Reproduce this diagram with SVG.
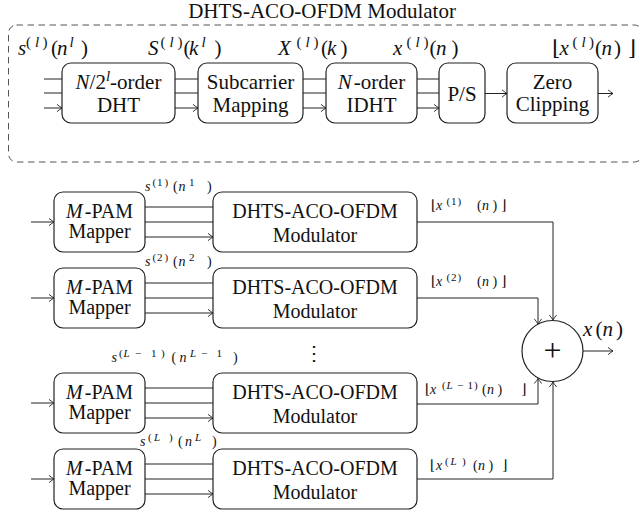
<svg xmlns="http://www.w3.org/2000/svg" width="640" height="512" viewBox="0 0 640 512">
<defs>
<marker id="arr" viewBox="-6 -5 7 10" refX="0" refY="0" markerWidth="7" markerHeight="10" markerUnits="userSpaceOnUse" orient="auto">
<path d="M-5,-3.6 Q-1.6,-0.9 0,0 Q-1.6,0.9 -5,3.6" fill="none" stroke="#222" stroke-width="0.9"/>
</marker>
<style>
.t{font-family:"Liberation Serif","DejaVu Serif",serif;fill:#111}
.b{font-size:21px}
.c{font-size:20px}
.i{font-style:italic}
.sup{font-size:15px}
.sm{font-size:14px}
.ss{font-size:11px}
.box{fill:#fff;stroke:#222;stroke-width:1.2}
.ln{fill:none;stroke:#222;stroke-width:1}
.a{marker-end:url(#arr)}
.dash{fill:none;stroke:#555;stroke-width:1;stroke-dasharray:6.5 4.5}
</style>
</defs>
<rect width="640" height="512" fill="#fff"/>

<text class="t b" x="322" y="18" text-anchor="middle">DHTS-ACO-OFDM Modulator</text>
<rect class="dash" x="8.5" y="25" width="634" height="137" rx="8"/>

<g id="connectors">
<path class="ln a" d="M44,79H62M44,93H62M44,108H62"/>
<path class="ln a" d="M175,79H198M175,93H198M175,108H198"/>
<path class="ln a" d="M303,79H326M303,93H326M303,108H326"/>
<path class="ln a" d="M417,79H439M417,93H439M417,108H439"/>
<path class="ln a" d="M485,93.5H507"/>
<path class="ln a" d="M598,93.5H613"/>

<path class="ln a" d="M31,222H54"/>
<path class="ln a" d="M145,207H213M145,222H213M145,237H213"/>
<path class="ln a" d="M31,298H54"/>
<path class="ln a" d="M145,283H213M145,298H213M145,313H213"/>
<path class="ln a" d="M31,403H54"/>
<path class="ln a" d="M145,388H213M145,403H213M145,418H213"/>
<path class="ln a" d="M31,479H54"/>
<path class="ln a" d="M145,464H213M145,479H213M145,494H213"/>

<path class="ln a" d="M417,222H553V320"/>
<path class="ln a" d="M417,298H538V324"/>
<path class="ln a" d="M417,404H538V378.5"/>
<path class="ln a" d="M417,479H553V382"/>
<path class="ln a" d="M583,351H613"/>
</g>

<g id="dht">
<rect class="box" x="62" y="63" width="113" height="60" rx="9"/>
<text class="t b" x="118.5" y="89" text-anchor="middle"><tspan class="i">N</tspan>/2<tspan class="i sup" dy="-8">l</tspan><tspan dy="8">-order</tspan></text>
<text class="t b" x="118.5" y="112" text-anchor="middle">DHT</text>
</g>
<g id="submap">
<rect class="box" x="198" y="63" width="105" height="60" rx="9"/>
<text class="t b" x="250.5" y="89" text-anchor="middle">Subcarrier</text>
<text class="t b" x="250.5" y="112" text-anchor="middle">Mapping</text>
</g>
<g id="idht">
<rect class="box" x="326" y="63" width="91" height="60" rx="9"/>
<text class="t b" x="371.5" y="89" text-anchor="middle"><tspan class="i">N</tspan><tspan dx="2">-order</tspan></text>
<text class="t b" x="371.5" y="112" text-anchor="middle">IDHT</text>
</g>
<g id="ps">
<rect class="box" x="439" y="63" width="46" height="60" rx="9"/>
<text class="t b" x="462" y="101" text-anchor="middle">P/S</text>
</g>
<g id="zc">
<rect class="box" x="507" y="63" width="91" height="60" rx="9"/>
<text class="t b" x="552.5" y="89" text-anchor="middle">Zero</text>
<text class="t b" x="552.5" y="111" text-anchor="middle">Clipping</text>
</g>

<g id="toplabels" class="t b">
<text y="55"><tspan class="i" x="18">s</tspan><tspan class="sup" x="26" y="47">(</tspan><tspan class="sup i" x="35">l</tspan><tspan class="sup" x="42.5">)</tspan><tspan x="51" y="55">(</tspan><tspan class="i" x="57">n</tspan><tspan class="sup i" x="69.5" y="47">l</tspan><tspan x="81" y="55">)</tspan></text>
<text y="55"><tspan class="i" x="148">S</tspan><tspan class="sup" x="160.5" y="47">(</tspan><tspan class="sup i" x="169.5">l</tspan><tspan class="sup" x="177.5">)</tspan><tspan x="183.5" y="55">(</tspan><tspan class="i" x="189">k</tspan><tspan class="sup i" x="201.5" y="47">l</tspan><tspan x="214.5" y="55">)</tspan></text>
<text y="55"><tspan class="i" x="278">X</tspan><tspan class="sup" x="296.5" y="47">(</tspan><tspan class="sup i" x="305.5">l</tspan><tspan class="sup" x="313.5">)</tspan><tspan x="321" y="55">(</tspan><tspan class="i" x="327">k</tspan><tspan x="340.5">)</tspan></text>
<text y="55"><tspan class="i" x="393">x</tspan><tspan class="sup" x="406.5" y="47">(</tspan><tspan class="sup i" x="415.5">l</tspan><tspan class="sup" x="423.5">)</tspan><tspan x="429.5" y="55">(</tspan><tspan class="i" x="436">n</tspan><tspan x="451.5">)</tspan></text>
<text y="55"><tspan x="552">⌊</tspan><tspan class="i" x="559.5">x</tspan><tspan class="sup" x="572.5" y="47">(</tspan><tspan class="sup i" x="581.5">l</tspan><tspan class="sup" x="589">)</tspan><tspan x="595" y="55">(</tspan><tspan class="i" x="601.5">n</tspan><tspan x="614">)</tspan><tspan x="628">⌋</tspan></text>
</g>

<g id="mapper1"><rect class="box" x="54" y="192" width="91" height="60" rx="9"/>
<text class="t c" x="99.5" y="218" text-anchor="middle"><tspan class="i">M</tspan><tspan dx="2">-PAM</tspan></text>
<text class="t c" x="99.5" y="238" text-anchor="middle">Mapper</text></g>
<g id="mod1"><rect class="box" x="213" y="192" width="204" height="60" rx="9"/>
<text class="t c" x="315" y="218" text-anchor="middle">DHTS-ACO-OFDM</text>
<text class="t c" x="315" y="242" text-anchor="middle">Modulator</text></g>

<g id="mapper2"><rect class="box" x="54" y="268" width="91" height="60" rx="9"/>
<text class="t c" x="99.5" y="294" text-anchor="middle"><tspan class="i">M</tspan><tspan dx="2">-PAM</tspan></text>
<text class="t c" x="99.5" y="314" text-anchor="middle">Mapper</text></g>
<g id="mod2"><rect class="box" x="213" y="268" width="204" height="60" rx="9"/>
<text class="t c" x="315" y="294" text-anchor="middle">DHTS-ACO-OFDM</text>
<text class="t c" x="315" y="318" text-anchor="middle">Modulator</text></g>

<g id="mapper3"><rect class="box" x="54" y="373" width="91" height="60" rx="9"/>
<text class="t c" x="99.5" y="399" text-anchor="middle"><tspan class="i">M</tspan><tspan dx="2">-PAM</tspan></text>
<text class="t c" x="99.5" y="419" text-anchor="middle">Mapper</text></g>
<g id="mod3"><rect class="box" x="213" y="373" width="204" height="60" rx="9"/>
<text class="t c" x="315" y="399" text-anchor="middle">DHTS-ACO-OFDM</text>
<text class="t c" x="315" y="423" text-anchor="middle">Modulator</text></g>

<g id="mapper4"><rect class="box" x="54" y="449" width="91" height="60" rx="9"/>
<text class="t c" x="99.5" y="475" text-anchor="middle"><tspan class="i">M</tspan><tspan dx="2">-PAM</tspan></text>
<text class="t c" x="99.5" y="495" text-anchor="middle">Mapper</text></g>
<g id="mod4"><rect class="box" x="213" y="449" width="204" height="60" rx="9"/>
<text class="t c" x="315" y="475" text-anchor="middle">DHTS-ACO-OFDM</text>
<text class="t c" x="315" y="499" text-anchor="middle">Modulator</text></g>

<g id="sum">
<circle cx="552.5" cy="351" r="30.5" fill="#fff" stroke="#222" stroke-width="1.2"/>
<text class="t" x="552.5" y="361" font-size="32" text-anchor="middle">+</text>
</g>
<text class="t" x="314" y="360" font-size="20" text-anchor="middle" font-family="DejaVu Serif, serif">⋮</text>

<g id="smalllabels" class="t sm">
<text y="191"><tspan class="i" x="145">s</tspan><tspan class="ss" x="152.5" y="185.5">(</tspan><tspan class="ss" x="157">1</tspan><tspan class="ss" x="164.5">)</tspan><tspan x="173" y="191">(</tspan><tspan class="i" x="178.5">n</tspan><tspan class="ss" x="189" y="185.5">1</tspan><tspan x="207" y="191">)</tspan></text>
<text y="266"><tspan class="i" x="145">s</tspan><tspan class="ss" x="152.5" y="260.5">(</tspan><tspan class="ss" x="157">2</tspan><tspan class="ss" x="164.5">)</tspan><tspan x="173" y="266">(</tspan><tspan class="i" x="178.5">n</tspan><tspan class="ss" x="189" y="260.5">2</tspan><tspan x="207" y="266">)</tspan></text>
<text y="362"><tspan class="i" x="111.5">s</tspan><tspan class="ss" x="119" y="356.5">(</tspan><tspan class="ss i" x="123.5">L</tspan><tspan class="ss" x="135">−</tspan><tspan class="ss" x="151">1</tspan><tspan class="ss" x="161">)</tspan><tspan x="171.5" y="362">(</tspan><tspan class="i" x="179.5">n</tspan><tspan class="ss i" x="190" y="356.5">L</tspan><tspan class="ss" x="201">−</tspan><tspan class="ss" x="216.5">1</tspan><tspan x="233" y="362">)</tspan></text>
<text y="446"><tspan class="i" x="140">s</tspan><tspan class="ss" x="148" y="440.5">(</tspan><tspan class="ss i" x="154">L</tspan><tspan class="ss" x="169">)</tspan><tspan x="178" y="446">(</tspan><tspan class="i" x="185">n</tspan><tspan class="ss i" x="195" y="440.5">L</tspan><tspan x="212" y="446">)</tspan></text>

<text y="210"><tspan x="431">⌊</tspan><tspan class="i" x="436">x</tspan><tspan class="ss" x="446.5" y="204.5">(</tspan><tspan class="ss" x="451">1</tspan><tspan class="ss" x="457.5">)</tspan><tspan x="477" y="210">(</tspan><tspan class="i" x="482">n</tspan><tspan x="492.5">)</tspan><tspan x="501">⌋</tspan></text>
<text y="286"><tspan x="431">⌊</tspan><tspan class="i" x="436">x</tspan><tspan class="ss" x="446.5" y="280.5">(</tspan><tspan class="ss" x="451">2</tspan><tspan class="ss" x="457.5">)</tspan><tspan x="477" y="286">(</tspan><tspan class="i" x="482">n</tspan><tspan x="492.5">)</tspan><tspan x="501">⌋</tspan></text>
<text y="394"><tspan x="425">⌊</tspan><tspan class="i" x="430">x</tspan><tspan class="ss" x="442" y="388.5">(</tspan><tspan class="ss i" x="446.5">L</tspan><tspan class="ss" x="457">−</tspan><tspan class="ss" x="467.5">1</tspan><tspan class="ss" x="474">)</tspan><tspan x="482" y="394">(</tspan><tspan class="i" x="487">n</tspan><tspan x="497.5">)</tspan><tspan x="521">⌋</tspan></text>
<text y="470"><tspan x="430">⌊</tspan><tspan class="i" x="436">x</tspan><tspan class="ss" x="445" y="464.5">(</tspan><tspan class="ss i" x="450.5">L</tspan><tspan class="ss" x="462">)</tspan><tspan x="473" y="470">(</tspan><tspan class="i" x="478">n</tspan><tspan x="488.5">)</tspan><tspan x="502">⌋</tspan></text>
</g>

<text class="t b" y="336"><tspan class="i" x="583">x</tspan><tspan x="595.5">(</tspan><tspan class="i" x="602.5">n</tspan><tspan x="616">)</tspan></text>
</svg>
